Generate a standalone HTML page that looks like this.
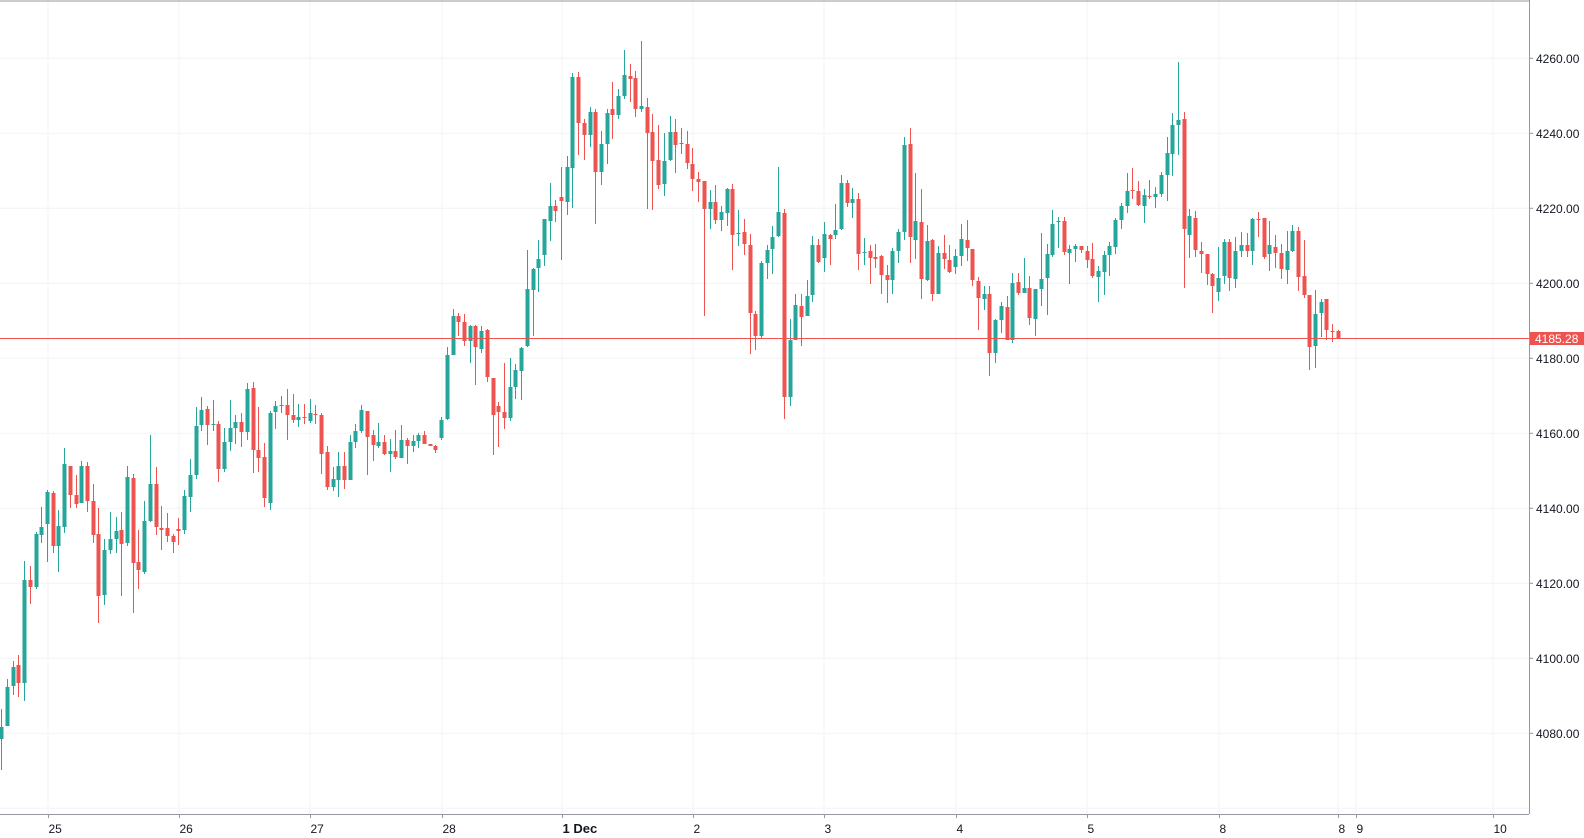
<!DOCTYPE html>
<html><head><meta charset="utf-8">
<style>
html,body{margin:0;padding:0;background:#fff;width:1584px;height:838px;overflow:hidden}
svg{display:block}
text{font-family:"Liberation Sans",sans-serif;font-size:12px;fill:#131722}
</style></head>
<body>
<svg id="c" width="1584" height="838" xmlns="http://www.w3.org/2000/svg"></svg>
<script>
var D=[
[1,727,739,709,770],[1,687,726,679,726],[1,667,686,661,695],[0,665,683,655,697],[1,580,683,561,701],
[0,580,587,566,604],[1,534,587,532,589],[1,527,535,507,543],[1,492,524,490,562],[0,493,546,491,553],
[1,526,546,510,572],[1,464,527,448,533],[0,466,495,466,508],[0,495,504,475,508],[1,466,503,461,503],
[0,466,501,462,512],[0,501,535,484,543],[0,534,596,508,623],[1,550,595,539,605],[1,539,550,512,554],
[1,531,539,517,553],[0,530,544,512,596],[1,477,543,466,546],[0,478,563,474,613],[0,562,570,530,589],
[1,521,572,501,574],[1,484,521,435,522],[0,484,527,467,535],[0,528,530,506,550],[0,528,536,513,542],
[0,536,542,534,553],[0,529,531,518,545],[1,496,530,490,534],[1,475,497,459,512],[1,426,475,407,479],
[1,410,425,397,431],[0,409,425,406,445],[1,424,425,400,431],[0,424,469,421,482],[1,442,469,428,472],
[1,428,442,400,451],[1,422,428,415,444],[0,422,432,413,447],[1,389,432,383,440],[0,388,450,382,473],
[0,450,458,407,472],[0,457,498,443,507],[1,413,503,411,510],[1,406,412,401,429],[1,405,406,396,413],
[0,405,415,389,440],[0,415,420,394,423],[1,417,420,404,427],[0,417,418,404,424],[1,413,421,399,423],
[0,414,415,405,424],[0,415,454,413,474],[0,452,487,446,490],[1,479,487,467,491],[1,466,480,452,497],
[0,466,480,452,489],[1,442,480,435,480],[1,431,442,424,448],[1,410,431,405,433],[0,411,437,411,475],
[0,435,445,430,461],[1,442,446,423,448],[0,442,454,435,455],[1,451,454,439,472],[0,451,457,430,459],
[1,440,458,425,458],[0,440,446,438,464],[1,441,446,435,452],[1,435,441,433,448],[0,435,444,431,444],
[0,444,446,444,446],[0,446,450,445,453],[1,420,438,417,440],[1,355,419,347,420],[1,316,355,309,355],
[0,316,322,313,336],[0,322,341,314,346],[1,326,341,325,363],[0,326,347,325,385],[1,331,349,326,353],
[0,330,377,329,382],[0,378,415,378,455],[0,406,412,402,447],[0,412,418,363,429],[1,387,418,358,421],
[1,370,387,364,399],[1,348,371,347,400],[1,289,346,250,347],[1,269,290,268,336],[1,259,268,240,292],
[1,219,255,219,266],[1,206,221,183,241],[0,206,211,200,222],[0,197,201,167,260],[1,167,202,156,215],
[1,77,168,73,208],[0,77,123,72,155],[0,123,135,119,160],[1,112,135,107,147],[0,112,172,109,224],
[1,144,172,131,185],[1,113,144,109,164],[0,109,115,82,139],[1,96,115,89,119],[1,75,96,50,99],
[0,76,79,64,102],[0,78,109,71,117],[1,106,109,41,112],[0,107,133,98,209],[0,132,161,114,210],
[0,160,185,125,189],[1,161,184,133,196],[1,132,160,116,161],[0,132,145,119,173],[1,143,144,128,154],
[0,144,163,131,169],[0,164,179,148,191],[0,179,182,172,202],[0,181,209,181,316],[1,202,209,190,229],
[0,202,220,185,224],[1,212,220,206,231],[1,189,213,188,226],[0,189,235,184,270],[1,233,234,210,246],
[0,232,244,219,255],[0,245,313,234,354],[0,314,336,311,350],[1,263,336,261,338],[1,250,263,245,279],
[1,237,249,226,274],[1,212,236,167,237],[0,213,397,209,419],[1,340,397,319,406],[1,305,340,294,340],
[0,306,317,294,346],[1,296,316,280,316],[1,245,295,236,302],[0,245,262,239,263],[1,234,258,222,272],
[0,235,239,234,265],[1,230,235,204,239],[1,183,229,175,230],[0,183,203,180,207],[1,199,203,188,218],
[0,199,254,193,270],[1,252,253,238,265],[0,251,258,245,284],[0,257,259,244,268],[0,256,275,255,294],
[0,275,280,265,303],[1,251,280,248,294],[1,232,251,229,263],[1,145,232,137,240],[0,144,237,128,263],
[1,221,240,173,259],[0,222,279,189,299],[1,241,280,225,281],[0,240,294,239,301],[1,253,294,246,294],
[0,253,259,235,269],[0,260,272,245,273],[1,256,267,249,274],[1,239,256,224,266],[0,240,248,220,261],
[0,249,280,249,286],[0,281,298,277,330],[1,294,299,286,310],[0,294,353,286,376],[1,320,353,319,363],
[1,306,320,302,333],[0,307,340,296,340],[1,283,340,273,343],[0,282,293,273,295],[1,288,293,258,293],
[0,288,318,276,325],[1,289,319,289,336],[1,279,289,233,306],[1,254,278,244,315],[1,224,255,210,257],
[1,221,222,217,248],[0,221,252,217,255],[1,249,253,245,284],[1,246,249,244,262],[0,246,250,246,253],
[0,251,260,246,268],[0,259,276,243,278],[1,271,277,266,302],[1,255,272,251,295],[1,246,255,242,276],
[1,220,247,218,254],[1,206,220,203,229],[1,191,206,173,213],[0,190,191,168,199],[0,191,205,181,206],
[1,195,206,189,223],[0,196,197,180,199],[1,194,197,187,208],[1,175,194,172,197],[1,153,175,137,201],
[1,125,154,113,176],[1,120,125,62,155],[0,119,229,112,288],[1,216,235,209,258],[0,218,250,211,257],
[0,251,254,242,273],[0,254,274,254,285],[0,274,286,273,313],[1,278,292,247,301],[1,242,276,239,284],
[0,242,278,239,291],[1,251,279,237,288],[1,245,251,232,257],[0,245,251,233,257],[1,219,251,218,265],
[0,219,220,212,237],[0,218,257,218,259],[1,245,254,221,271],[0,247,253,235,268],[0,253,269,244,279],
[1,251,270,231,284],[1,231,251,225,252],[0,231,277,227,291],[0,276,295,240,298],[0,295,347,295,370],
[1,314,346,290,368],[1,302,313,299,337],[0,299,330,299,340],[0,331,332,324,342],[0,331,339,330,339]
];
var s='';
var AX=1529, AY=814;
function py(v){return 58.3+(4260-v)*3.75;}
// horizontal grid
for(var v=4060;v<=4260;v+=20){var y=py(v);s+='<line x1="0" x2="'+AX+'" y1="'+y+'" y2="'+y+'" stroke="#f2f3f5" stroke-width="1"/>';}
// vertical grid + labels
var VX=[[48,'25'],[179,'26'],[310,'27'],[442,'28'],[562,'1 Dec',1],[693,'2'],[824,'3'],[956,'4'],[1087,'5'],[1219,'8'],[1338,'8'],[1356,'9'],[1493,'10']];
VX.forEach(function(g){s+='<line x1="'+g[0]+'" x2="'+g[0]+'" y1="0" y2="'+AY+'" stroke="#f2f3f5" stroke-width="1"/>';});
// candles
for(var i=0;i<D.length;i++){
 var d=D[i],x=1.3+i*5.712,c=d[0]?'#26a69a':'#ef5350';
 var xr=Math.round(x);
 s+='<rect x="'+(xr)+'" y="'+d[3]+'" width="1" height="'+Math.max(1,d[4]-d[3])+'" fill="'+c+'"/>';
 s+='<rect x="'+(xr-1.5)+'" y="'+d[1]+'" width="4" height="'+Math.max(1,d[2]-d[1])+'" fill="'+c+'"/>';
}
// price line
var pl=py(4185.28);
s+='<line x1="0" x2="'+AX+'" y1="'+pl+'" y2="'+pl+'" stroke="#ef5350" stroke-width="1"/>';
// axes
s+='<line x1="0" x2="'+AX+'" y1="1" y2="1" stroke="#9598a1" stroke-width="1"/>';
s+='<line x1="0" x2="'+AX+'" y1="'+AY+'.5" y2="'+AY+'.5" stroke="#9598a1" stroke-width="1"/>';
s+='<line x1="'+AX+'.5" x2="'+AX+'.5" y1="0" y2="'+AY+'" stroke="#9598a1" stroke-width="1"/>';
VX.forEach(function(g){
 s+='<line x1="'+g[0]+'.5" x2="'+g[0]+'.5" y1="'+AY+'" y2="'+(AY+4)+'" stroke="#9598a1"/>';
 s+='<text x="'+(g[0]+0.5)+'" y="833"'+(g[2]?' style="font-weight:bold;font-size:13px"':'')+'>'+g[1]+'</text>';
});
for(var v=4080;v<=4260;v+=20){var y=py(v);
 s+='<line x1="'+AX+'" x2="'+(AX+4)+'" y1="'+y+'" y2="'+y+'" stroke="#9598a1"/>';
 s+='<text x="1536" y="'+(y+4.5)+'">'+v+'.00</text>';}
// price label
s+='<rect x="'+(AX+1)+'" y="'+(pl-6.5)+'" width="'+(1584-AX-1)+'" height="13" fill="#ef5350"/>';
s+='<text x="1535" y="'+(pl+4.5)+'" style="fill:#fff">4185.28</text>';
document.getElementById('c').innerHTML=s;
</script>
</body></html>
